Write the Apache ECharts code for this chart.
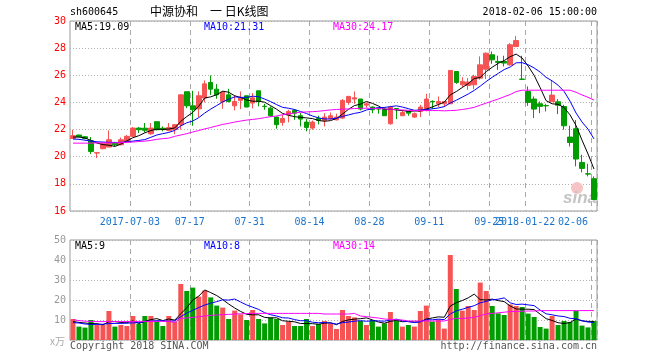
<!DOCTYPE html>
<html><head><meta charset="utf-8">
<script src="https://cdn.jsdelivr.net/npm/echarts@6/dist/echarts.min.js"></script>
<style>html,body{margin:0;padding:0;background:#fff}#c{width:660px;height:360px}</style>
</head><body><div id="c"></div>
<script>
const dates = ['2017-06-19','2017-06-20','2017-06-21','2017-06-22','2017-06-23','2017-06-26','2017-06-27','2017-06-28','2017-06-29','2017-06-30',
'2017-07-03','2017-07-04','2017-07-05','2017-07-06','2017-07-07','2017-07-10','2017-07-11','2017-07-12','2017-07-13','2017-07-14',
'2017-07-17','2017-07-18','2017-07-19','2017-07-20','2017-07-21','2017-07-24','2017-07-25','2017-07-26','2017-07-27','2017-07-28',
'2017-07-31','2017-08-01','2017-08-02','2017-08-03','2017-08-04','2017-08-07','2017-08-08','2017-08-09','2017-08-10','2017-08-11',
'2017-08-14','2017-08-15','2017-08-16','2017-08-17','2017-08-18','2017-08-21','2017-08-22','2017-08-23','2017-08-24','2017-08-25',
'2017-08-28','2017-08-29','2017-08-30','2017-08-31','2017-09-01','2017-09-04','2017-09-05','2017-09-06','2017-09-07','2017-09-08',
'2017-09-11','2017-09-12','2017-09-13','2017-09-14','2017-09-15','2017-09-18','2017-09-19','2017-09-20','2017-09-21','2017-09-22',
'2017-09-25','2017-09-26','2017-09-27','2017-09-28','2017-09-29','2017-10-09','2018-01-22','2018-01-23','2018-01-24','2018-01-25',
'2018-01-26','2018-01-29','2018-01-30','2018-01-31','2018-02-01','2018-02-02','2018-02-05','2018-02-06'];

const opens  = [21.35,21.60,21.47,21.18,20.27,20.59,20.71,21.00,20.88,21.13,21.50,22.11,22.10,21.69,22.58,22.10,21.94,22.00,22.36,24.79,
23.75,23.53,24.32,25.47,24.98,24.07,24.56,23.75,24.15,24.49,23.95,24.86,23.72,23.58,22.92,22.53,23.09,23.41,23.02,22.55,
22.11,22.82,22.67,22.82,22.72,22.85,24.00,24.25,24.25,23.80,23.66,23.58,23.51,22.43,23.55,23.02,23.34,22.92,23.34,23.51,
24.08,23.90,23.90,23.90,26.28,25.30,25.25,25.30,25.79,26.45,27.51,27.02,27.02,26.77,28.12,25.72,24.81,24.25,23.90,23.77,
24.05,24.05,23.70,21.45,22.06,19.58,18.74,18.38];
const closes = [21.55,21.47,21.35,20.39,20.30,20.96,21.25,20.88,21.25,21.50,22.11,21.99,21.95,22.11,21.99,22.00,22.15,22.36,24.56,23.75,
23.46,24.49,25.37,24.98,24.56,24.76,24.07,24.07,24.32,23.66,24.34,24.07,23.70,23.02,22.36,22.82,23.34,23.21,22.77,22.16,
22.55,22.67,22.92,23.02,22.92,24.15,24.44,24.34,23.51,23.90,23.46,23.51,23.02,23.66,23.53,23.26,23.21,23.17,23.66,24.25,
24.05,24.07,24.07,26.36,25.47,25.55,25.50,25.91,26.77,27.63,27.14,26.95,26.90,28.25,28.56,25.70,24.00,23.51,23.71,23.75,
24.54,23.80,22.28,21.05,19.83,19.14,18.72,16.85];
const lows   = [21.33,21.45,21.30,20.20,19.90,20.55,20.71,20.76,20.85,21.10,21.45,21.74,21.79,21.62,21.94,21.87,21.87,21.67,22.00,23.58,
22.28,22.92,24.00,24.56,24.27,23.53,24.00,23.41,23.51,23.66,23.56,23.71,23.46,22.92,22.06,22.28,22.53,22.72,22.23,21.87,
21.99,22.38,22.23,22.72,22.67,22.77,23.83,23.90,23.41,23.60,23.21,23.17,23.02,22.36,22.77,23.02,23.02,22.85,22.92,23.34,
23.51,23.66,23.66,23.90,25.37,25.13,24.93,24.98,25.67,25.72,26.85,26.40,26.65,26.70,28.07,25.67,23.75,22.85,23.21,23.34,
24.05,23.14,21.99,20.76,19.29,18.85,18.55,16.81];
const highs  = [21.99,21.62,21.50,21.45,20.35,21.00,21.94,21.10,21.42,21.60,22.18,22.18,22.48,22.48,22.58,22.23,22.48,22.40,24.56,24.79,
24.86,24.81,25.62,25.99,25.35,24.81,25.00,24.52,24.81,24.49,24.69,24.86,23.90,23.71,22.97,23.09,23.46,23.51,23.21,22.77,
22.67,23.02,23.21,23.26,23.17,24.25,24.49,24.81,24.25,24.00,23.70,23.60,23.66,23.75,23.55,23.46,23.34,23.26,23.83,24.64,
24.15,24.44,24.10,26.36,26.28,25.86,25.79,26.04,27.39,27.68,27.75,27.44,27.44,28.37,28.90,27.44,25.18,24.44,24.07,23.90,
25.62,24.25,23.82,22.28,22.70,20.15,19.48,18.55];

const ma5 = [21.45,21.45,21.38,21.20,21.01,20.89,20.85,20.76,20.93,21.17,21.40,21.55,21.76,21.93,22.03,22.01,22.04,22.12,22.61,22.96,
23.26,23.72,24.33,24.41,24.57,24.83,24.75,24.49,24.36,24.18,24.09,24.09,24.02,23.76,23.50,23.19,23.05,22.95,22.90,22.86,
22.81,22.67,22.61,22.66,22.82,23.14,23.49,23.77,23.87,24.07,23.93,23.74,23.48,23.51,23.44,23.40,23.34,23.37,23.37,23.51,
23.67,23.84,24.02,24.56,24.80,25.10,25.39,25.76,25.84,26.27,26.59,26.88,27.08,27.37,27.56,27.27,26.68,26.00,25.10,24.13,
23.90,23.86,23.62,23.08,22.30,21.22,20.20,19.09];
const ma10 = [21.30,21.28,21.22,21.15,21.10,21.08,21.06,21.05,21.06,21.09,21.15,21.20,21.26,21.43,21.60,21.70,21.79,21.94,22.27,22.50,
22.63,22.88,23.22,23.51,23.77,24.04,24.24,24.41,24.38,24.37,24.46,24.42,24.25,24.06,23.84,23.64,23.57,23.48,23.33,23.18,
23.00,22.86,22.78,22.78,22.84,22.97,23.08,23.19,23.27,23.44,23.53,23.62,23.63,23.69,23.75,23.66,23.54,23.42,23.44,23.47,
23.53,23.59,23.69,23.96,24.16,24.39,24.62,24.89,25.20,25.54,25.85,26.14,26.42,26.61,26.92,26.93,26.78,26.54,26.24,25.85,
25.59,25.27,24.81,24.09,23.22,22.56,22.03,21.31];
const ma30 = [21.00,21.00,21.00,21.00,21.02,21.02,21.02,21.03,21.04,21.06,21.08,21.12,21.15,21.20,21.28,21.33,21.37,21.50,21.60,21.70,
21.82,21.93,22.05,22.15,22.27,22.38,22.46,22.55,22.63,22.70,22.75,22.80,22.88,22.95,23.00,23.10,23.17,23.22,23.28,23.30,
23.32,23.35,23.40,23.45,23.48,23.50,23.52,23.55,23.57,23.57,23.56,23.55,23.52,23.50,23.47,23.44,23.42,23.40,23.40,23.40,
23.40,23.40,23.38,23.40,23.42,23.48,23.55,23.64,23.80,23.95,24.10,24.25,24.42,24.58,24.80,24.90,24.90,24.90,24.90,24.90,
24.90,24.90,24.90,24.90,24.75,24.55,24.38,24.17];

const volumes = [10.5,6.7,6.2,10,7.5,7.5,14.5,6.7,7.5,7,12,8,12,12,9.5,7,12,9.2,28,24.5,
26.2,21.7,24.7,21.3,17.2,16.2,10.5,14.7,12.8,10,15,10.5,8.3,11.3,10.5,7.5,9.2,7,7,10.5,
7,8,9.5,8.3,5.5,15,12,11.3,9.5,7.5,10,6.7,8.3,14,10,6.7,7.5,6.7,14.5,17.2,
9.2,10.3,5.7,42.5,25.5,14.7,17,15,28.7,24.5,17,13.3,12.5,17.8,17,16.5,13.2,11.5,6.5,5.7,
12,7.5,9.5,9.0,14.5,7.2,6.3,9.5];
const vma5 = [9.2,8.8,8.5,8.2,8.18,7.58,9.14,9.24,8.74,8.64,9.54,8.24,9.3,10.2,10.7,9.7,10.5,9.94,13.14,16.14,
19.98,21.92,25.02,23.68,22.22,20.22,17.98,15.98,14.28,12.84,12.6,12.6,11.32,11.02,11.12,9.62,9.36,9.1,8.24,8.24,
8.14,7.9,8.4,8.66,7.66,9.26,10.06,10.42,10.66,11.06,10.06,9.0,8.4,9.3,9.8,9.14,9.3,8.98,9.08,10.52,
11.02,11.58,11.38,16.98,18.64,19.74,21.08,22.94,20.18,19.98,20.44,19.7,19.2,17.02,15.52,15.42,15.4,15.2,12.94,10.68,
9.78,8.64,8.24,8.74,10.5,9.54,9.3,9.3];
const vma10 = [8.7,8.5,8.0,7.8,7.8,7.9,8.2,8.3,8.3,8.41,8.56,8.69,9.27,9.47,9.67,9.62,9.37,9.62,11.67,13.42,
14.84,16.21,17.48,18.41,19.18,20.1,19.95,20.5,18.98,17.53,16.41,15.29,13.65,12.65,11.98,11.11,10.98,10.21,9.63,9.68,
8.88,8.63,8.75,8.45,7.95,8.7,8.98,9.41,9.66,9.36,9.66,9.53,9.41,9.98,10.43,9.6,9.15,8.69,9.19,10.16,
10.08,10.44,10.18,13.03,14.58,15.38,16.33,17.16,18.58,19.31,20.09,20.39,21.07,18.6,17.75,17.93,17.55,17.2,14.98,13.1,
12.6,12.02,11.72,10.84,10.59,9.66,8.97,8.77];
const vma30 = [10.2,9.7,9.4,9.3,9.2,9.2,9.2,9.2,9.2,9.2,9.2,9.3,9.3,9.3,9.3,9.3,9.3,8.8,10.8,11.0,
11.3,11.6,12.0,12.3,12.5,12.7,12.8,13.0,13.1,13.2,13.3,13.3,13.3,13.3,13.3,13.3,13.3,13.3,13.3,13.3,
13.3,13.3,13.0,13.0,13.0,13.0,13.0,13.3,12.0,11.7,11.3,11.0,10.5,10.3,10.1,10.0,9.5,9.5,9.5,9.5,
9.5,9.5,9.5,10.3,10.8,10.8,11.0,11.3,12.2,13.0,13.3,13.6,13.9,14.2,14.3,14.4,14.5,14.5,14.7,14.7,
14.7,14.7,14.7,14.7,14.7,14.7,14.7,14.7];

const tickIdx = [10,20,30,40,50,60,70,76,87];
const tickLabels = ['2017-07-03','07-17','07-31','08-14','08-28','09-11','09-25','2018-01-22','02-06'];
const priceTicks = [16,30,2];
const volTicks = [0,50,10];

const RED = '#f65454', GREEN = '#009c00', BLUE_TXT = '#1b74cc';
const MONO = '"DejaVu Sans Mono", monospace';

const candleData = dates.map((d,i)=>[opens[i],closes[i],lows[i],highs[i]]);
const volData = volumes.map((v,i)=>({value:v,itemStyle:{color: closes[i]>=opens[i]?RED:GREEN}}));

const isTick = i => tickIdx.indexOf(i) >= 0;
const vSplit = {show:true, interval:(i)=>isTick(i), lineStyle:{color:'#a8a8a8', type:[5,4], width:1}};
const hSplit = {show:true, lineStyle:{color:'#b0b0b0', type:[1,2], width:1}};

const chart = echarts.init(document.getElementById('c'), null, {renderer:'canvas'});
const last = a => a[a.length-1];
chart.setOption({
  animation:false,
  backgroundColor:'#fff',
  grid:[
    {left:70, top:21, width:527, height:190, show:true, borderColor:'#999', borderWidth:1},
    {left:70, top:240, width:527, height:100, show:true, borderColor:'#999', borderWidth:1}
  ],
  xAxis:[
    {type:'category', gridIndex:0, data:dates, boundaryGap:true,
     axisLine:{show:false}, axisTick:{show:false},
     axisLabel:{interval:(i)=>isTick(i), formatter:(v,i)=>tickLabels[tickIdx.indexOf(i)] || '',
       color:BLUE_TXT, fontFamily:MONO, fontSize:10, margin:6, padding:[0,6,0,0], alignMaxLabel:'right', hideOverlap:false},
     splitLine:vSplit},
    {type:'category', gridIndex:1, data:dates, boundaryGap:true,
     axisLine:{show:false}, axisTick:{show:false}, axisLabel:{show:false}, splitLine:vSplit}
  ],
  yAxis:[
    {type:'value', gridIndex:0, min:priceTicks[0], max:priceTicks[1], interval:priceTicks[2],
     axisLine:{show:false}, axisTick:{show:false},
     axisLabel:{color:'#ff0000', fontFamily:MONO, fontSize:10, margin:4}, splitLine:hSplit},
    {type:'value', gridIndex:1, min:volTicks[0], max:volTicks[1], interval:volTicks[2],
     axisLine:{show:false}, axisTick:{show:false},
     axisLabel:{color:'#999', fontFamily:MONO, fontSize:10, margin:4, formatter:v=>v===0?'':String(v)}, splitLine:hSplit}
  ],
  series:[
    {type:'candlestick', xAxisIndex:0, yAxisIndex:0, data:candleData, barWidth:5,
     itemStyle:{color:RED, color0:GREEN, borderColor:RED, borderColor0:GREEN, borderWidth:1}},
    {type:'line', xAxisIndex:0, yAxisIndex:0, data:ma5, symbol:'none', lineStyle:{color:'#000', width:1}},
    {type:'line', xAxisIndex:0, yAxisIndex:0, data:ma10, symbol:'none', lineStyle:{color:'#0000ff', width:1}},
    {type:'line', xAxisIndex:0, yAxisIndex:0, data:ma30, symbol:'none', lineStyle:{color:'#ff00ff', width:1}},
    {type:'bar', xAxisIndex:1, yAxisIndex:1, data:volData, barWidth:5},
    {type:'line', xAxisIndex:1, yAxisIndex:1, data:vma5, symbol:'none', lineStyle:{color:'#000', width:1}},
    {type:'line', xAxisIndex:1, yAxisIndex:1, data:vma10, symbol:'none', lineStyle:{color:'#0000ff', width:1}},
    {type:'line', xAxisIndex:1, yAxisIndex:1, data:vma30, symbol:'none', lineStyle:{color:'#ff00ff', width:1}}
  ],
  graphic:[
    {type:'text', left:70, top:7, style:{text:'sh600645', font:'10px '+MONO, fill:'#000'}},
    {type:'text', left:150, top:5, style:{text:'中源协和　一 日K线图', font:'12px "Noto Sans CJK SC"', fill:'#000'}},
    {type:'text', right:63, top:7, style:{text:'2018-02-06 15:00:00', font:'10px '+MONO, fill:'#000'}},
    {type:'text', left:75, top:22, style:{text:'MA5:'+last(ma5).toFixed(2), font:'10px '+MONO, fill:'#000'}},
    {type:'text', left:204, top:22, style:{text:'MA10:'+last(ma10).toFixed(2), font:'10px '+MONO, fill:'#0000ff'}},
    {type:'text', left:333, top:22, style:{text:'MA30:'+last(ma30).toFixed(2), font:'10px '+MONO, fill:'#ff00ff'}},
    {type:'text', left:75, top:241, style:{text:'MA5:'+Math.floor(last(vma5)), font:'10px '+MONO, fill:'#000'}},
    {type:'text', left:204, top:241, style:{text:'MA10:'+Math.floor(last(vma10)), font:'10px '+MONO, fill:'#0000ff'}},
    {type:'text', left:333, top:241, style:{text:'MA30:'+Math.floor(last(vma30)), font:'10px '+MONO, fill:'#ff00ff'}},
    {type:'text', left:50, top:336, style:{text:'x万', font:'10px "Noto Sans CJK SC"', fill:'#aaa'}},
    {type:'text', left:70, top:341, style:{text:'Copyright 2018 SINA.COM', font:'10px '+MONO, fill:'#555'}},
    {type:'text', right:63, top:341, style:{text:'http://finance.sina.com.cn', font:'10px '+MONO, fill:'#555'}},
    {type:'circle', shape:{cx:577, cy:188, r:6}, style:{fill:'#f6c4c4'}, z:1},
    {type:'text', left:563, top:190, style:{text:'sina', font:'italic bold 17px sans-serif', fill:'#c4c4c4'}, z:1}
  ]
});
</script></body></html>
